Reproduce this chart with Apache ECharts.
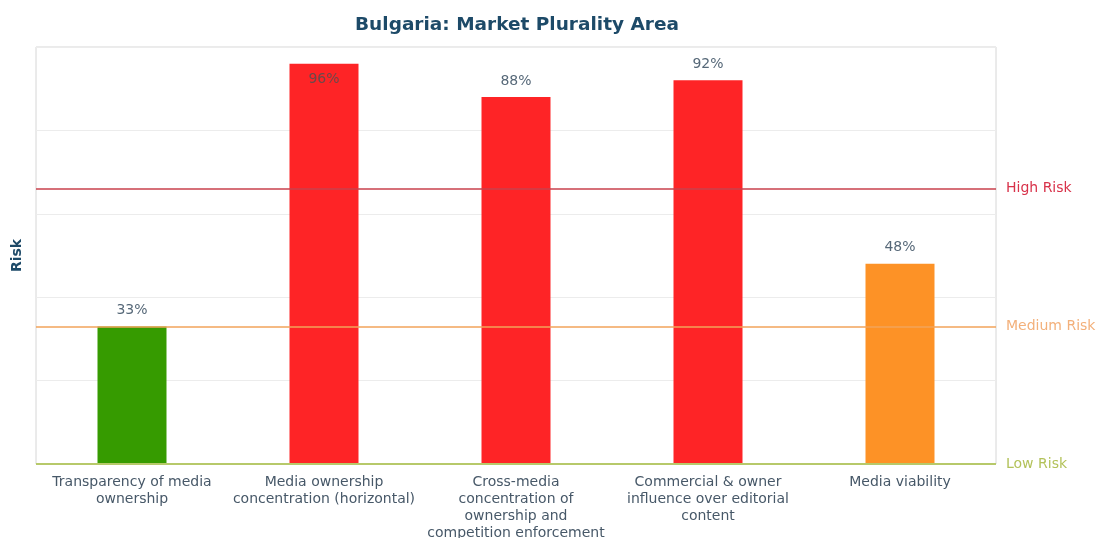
<!DOCTYPE html>
<html>
<head>
<meta charset="utf-8">
<script src="https://cdn.jsdelivr.net/npm/echarts@6/dist/echarts.min.js"></script>
<style>html,body{margin:0;padding:0;background:#fff}#c{width:1096px;height:538px}</style>
</head>
<body>
<div id="c"></div>
<script>
const titleText = 'Bulgaria: Market Plurality Area';
const categories = [
  'Transparency of media\nownership',
  'Media ownership\nconcentration (horizontal)',
  'Cross-media\nconcentration of\nownership and\ncompetition enforcement',
  'Commercial & owner\ninfluence over editorial\ncontent',
  'Media viability'
];
const values = [33, 96, 88, 92, 48];
const thresholdNames = ['High Risk', 'Medium Risk', 'Low Risk'];
const thresholdValues = [66, 33, 0];
const yTicks = [0, 20, 40, 60, 80, 100];

const FONT = 'DejaVu Sans';
function riskColor(v) {
  if (v <= 33) return '#369b00';
  if (v <= 66) return '#fd9226';
  return '#fe2426';
}
const lineColors = ['#c9404c', '#f2a35a', '#b7c96a'];
const textColors = ['#d8324a', '#f3b07a', '#b3c25a'];

const chart = echarts.init(document.getElementById('c'), null, {renderer: 'canvas'});
chart.setOption({
  animation: false,
  backgroundColor: '#ffffff',
  title: {
    text: titleText,
    left: 512, top: 11, textAlign: 'center',
    textStyle: {fontFamily: FONT, fontSize: 18.5, fontWeight: 'bold', color: '#1d4a68'}
  },
  grid: {left: 36, right: 100, top: 47, bottom: 74, outerBoundsMode: 'none', containLabel: false,
    show: true, borderColor: '#d6d6d6', borderWidth: 1, backgroundColor: 'transparent'},
  xAxis: {
    type: 'category',
    data: categories,
    axisLine: {show: false},
    axisTick: {show: false},
    axisLabel: {fontFamily: FONT, fontSize: 14, color: '#475868', lineHeight: 17, margin: 10, interval: 0}
  },
  yAxis: {
    type: 'value',
    min: yTicks[0], max: yTicks[yTicks.length - 1], interval: 20,
    name: 'Risk', nameLocation: 'middle', nameGap: 12,
    nameTextStyle: {fontFamily: FONT, fontSize: 14, fontWeight: 'bold', color: '#1d4a68'},
    axisLabel: {show: false},
    axisTick: {show: false},
    axisLine: {show: false},
    splitLine: {lineStyle: {color: '#ececec', width: 1}}
  },
  series: [{
    type: 'bar',
    barWidth: 69,
    data: values.map(v => ({
      value: v,
      itemStyle: {color: riskColor(v)},
      label: v > 94 ? {position: 'insideTop', distance: 9, color: '#6a4a4a'} : undefined
    })),
    label: {
      show: true, position: 'top', distance: 9,
      formatter: p => p.value + '%',
      fontFamily: FONT, fontSize: 14, color: '#566878'
    },
    markLine: {
      silent: true,
      symbol: 'none',
      data: thresholdValues.map((v, i) => ({
        yAxis: v,
        lineStyle: {color: lineColors[i], width: i === 2 ? 2 : 1.5, type: 'solid'},
        label: {show: true, position: 'end', distance: 10, formatter: thresholdNames[i],
          fontFamily: FONT, fontSize: 14, color: textColors[i]}
      }))
    }
  }]
});
</script>
</body>
</html>
